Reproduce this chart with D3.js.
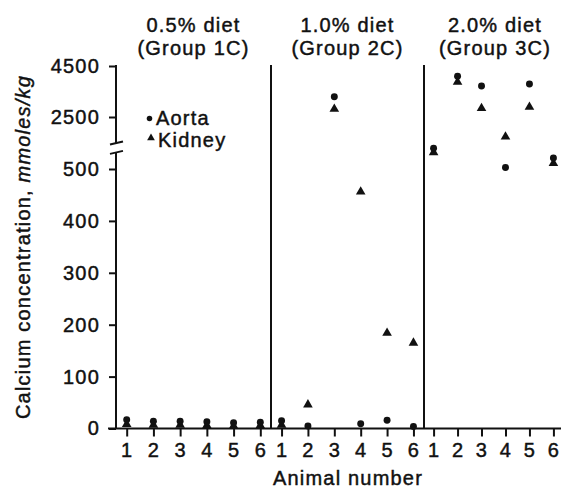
<!DOCTYPE html>
<html>
<head>
<meta charset="utf-8">
<script src="https://cdn.jsdelivr.net/npm/d3@7"></script>
<style>
  body { margin: 0; background: #fff; }
  svg text { font-family: "Liberation Sans", Arial, sans-serif; font-size: 20px; letter-spacing: 1.2px; fill: #111; stroke: #111; stroke-width: 0.45px; }
</style>
</head>
<body>
<svg width="561" height="494"></svg>
<script>
// values (mmoles/kg)
var animals = [1, 2, 3, 4, 5, 6];
var dietLabels = ["0.5% diet", "1.0% diet", "2.0% diet"];
var groupLabels = ["(Group 1C)", "(Group 2C)", "(Group 3C)"];
var aorta = [
    [17, 14, 14, 13, 11, 12],
    [15, 5, 3296, 9, 16, 4],
    [540, 4100, 3715, 503, 3794, 521]
];
var kidney = [
    [8, 7, 7, 6, 5, 6],
    [7, 46, 2814, 456, 184, 165],
    [532, 3873, 2841, 1728, 2892, 511]
];
var lowTicks = [0, 100, 200, 300, 400, 500];
var highTicks = [2500, 4500];

var svg = d3.select('svg');
var ink = '#111';

// broken y axis: linear 0-500 below, linear 2500-4500 above
var yLow = d3.scaleLinear().domain([0, 500]).range([428.5, 169]);
var yHigh = d3.scaleLinear().domain([2500, 4500]).range([117, 66]);
function y(v) { return v < 1000 ? yLow(v) : yHigh(v); }

var axisX = 116;
var panelEdges = [[116, 271], [271, 424], [424, 563]];
var xScales = panelEdges.map(function(e) {
    return d3.scaleLinear().domain([0.6, 6.4]).range(e);
});

// y axis, lower and upper parts
var gLow = svg.append('g')
    .attr('transform', 'translate(' + axisX + ',0)')
    .call(d3.axisLeft(yLow).tickValues(lowTicks).tickSize(7).tickPadding(9).tickFormat(d3.format('d')));
var gHigh = svg.append('g')
    .attr('transform', 'translate(' + axisX + ',0)')
    .call(d3.axisLeft(yHigh).tickValues(highTicks).tickSize(7).tickPadding(9).tickFormat(d3.format('d')));
[gLow, gHigh].forEach(function(g) {
    g.select('.domain').remove();
    g.selectAll('line').attr('stroke', ink).attr('stroke-width', 2);
    g.selectAll('text').attr('font-size', null).attr('font-family', null).attr('fill', ink);
});

svg.append('line')
    .attr('x1', axisX).attr('x2', axisX)
    .attr('y1', yLow(0)).attr('y2', yLow(532))
    .attr('stroke', ink).attr('stroke-width', 2);
svg.append('line')
    .attr('x1', axisX).attr('x2', axisX)
    .attr('y1', yHigh(4500) - 1).attr('y2', yHigh(1480))
    .attr('stroke', ink).attr('stroke-width', 2);

// break marks
[yHigh(1480), yLow(532)].forEach(function(by) {
    svg.append('line')
        .attr('x1', axisX - 6).attr('y1', by + 1.5)
        .attr('x2', axisX + 7).attr('y2', by - 1.5)
        .attr('stroke', ink).attr('stroke-width', 2);
});

// x axis line
svg.append('line')
    .attr('x1', 108).attr('x2', 561)
    .attr('y1', yLow(0)).attr('y2', yLow(0))
    .attr('stroke', ink).attr('stroke-width', 2);

// panel dividers
[271, 424].forEach(function(px) {
    svg.append('line')
        .attr('x1', px).attr('x2', px)
        .attr('y1', 65).attr('y2', yLow(0))
        .attr('stroke', ink).attr('stroke-width', 2);
});

var triangle = d3.symbol().type(d3.symbolTriangle).size(40);
var dot = d3.symbol().type(d3.symbolCircle).size(38);

xScales.forEach(function(x, p) {
    var g = svg.append('g')
        .attr('transform', 'translate(0,' + yLow(0) + ')')
        .call(d3.axisBottom(x).tickValues(animals).tickSize(8).tickPadding(6).tickFormat(d3.format('d')));
    g.select('.domain').remove();
    g.selectAll('line').attr('stroke', ink).attr('stroke-width', 2);
    g.selectAll('text').attr('font-size', null).attr('font-family', null).attr('fill', ink);

    var cx = (panelEdges[p][0] + panelEdges[p][1]) / 2;
    if (p == 2) cx = 495;
    svg.append('text').attr('x', cx).attr('y', 32)
        .attr('text-anchor', 'middle').text(dietLabels[p]);
    svg.append('text').attr('x', cx).attr('y', 55)
        .attr('text-anchor', 'middle').text(groupLabels[p]);

    svg.append('g').selectAll('path')
        .data(kidney[p])
        .enter()
        .append('path')
        .attr('d', triangle)
        .attr('fill', ink)
        .attr('transform', function(d, i) { return 'translate(' + x(animals[i]) + ',' + y(d) + ')'; });

    svg.append('g').selectAll('path')
        .data(aorta[p])
        .enter()
        .append('path')
        .attr('d', dot)
        .attr('fill', ink)
        .attr('transform', function(d, i) { return 'translate(' + x(animals[i]) + ',' + y(d) + ')'; });
});

// legend
svg.append('path').attr('d', d3.symbol().type(d3.symbolCircle).size(24))
    .attr('fill', ink).attr('transform', 'translate(149.5,118.5)');
svg.append('text').attr('x', 156).attr('y', 125).text('Aorta');
svg.append('path').attr('d', d3.symbol().type(d3.symbolTriangle).size(26))
    .attr('fill', ink).attr('transform', 'translate(151,138)');
svg.append('text').attr('x', 158).attr('y', 147).text('Kidney');

// axis titles
svg.append('text')
    .attr('transform', 'translate(30,247) rotate(-90)')
    .attr('text-anchor', 'middle')
    .html('Calcium concentration, <tspan font-style="italic">mmoles/kg</tspan>');
svg.append('text')
    .attr('x', 348).attr('y', 485)
    .attr('text-anchor', 'middle')
    .text('Animal number');
</script>
</body>
</html>
